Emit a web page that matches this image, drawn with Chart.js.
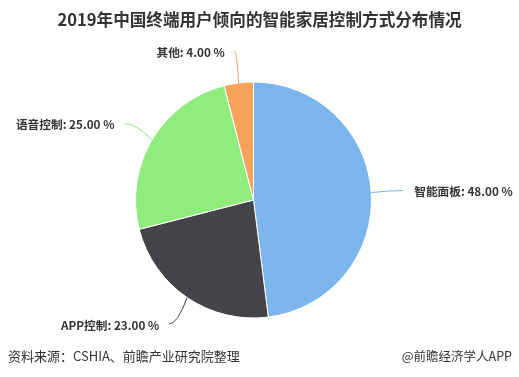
<!DOCTYPE html>
<html>
<head>
<meta charset="utf-8">
<script src="https://cdn.jsdelivr.net/npm/chart.js@4/dist/chart.umd.min.js"></script>
<style>
  html, body { margin: 0; padding: 0; background: #fff; }
  #wrap { position: relative; width: 519px; height: 377px; overflow: hidden; }
  #c { position: absolute; left: 0; top: 0; }
  .t { position: absolute; font-family: "Noto Sans CJK SC", "Noto Sans", sans-serif; white-space: nowrap; }
  #title { left: 0; width: 519px; top: 8px; text-align: center; font-size: 16.6px; font-weight: bold; color: #333; line-height: 22px; }
  #src { left: 8px; top: 346px; font-size: 13px; color: #333; line-height: 20px; }
  #app { right: 7px; top: 346px; font-size: 12.5px; color: #333; line-height: 20px; }
</style>
</head>
<body>
<div id="wrap">
  <canvas id="c" width="519" height="377"></canvas>
  <div class="t" id="title">2019年中国终端用户倾向的智能家居控制方式分布情况</div>
  <div class="t" id="src">资料来源：CSHIA、前瞻产业研究院整理</div>
  <div class="t" id="app">@前瞻经济学人APP</div>
</div>
<script>
const categories = ["智能面板", "APP控制", "语音控制", "其他"];
const values = [48.00, 23.00, 25.00, 4.00];
const colors = ["#7cb5ec", "#434348", "#90ed7d", "#f7a35c"];

const labelPlugin = {
  id: 'pieLabels',
  afterDatasetsDraw(chart) {
    const ctx = chart.ctx;
    const meta = chart.getDatasetMeta(0);
    const dist = 32;
    ctx.save();
    meta.data.forEach((arc, i) => {
      const p = arc.getProps(['x', 'y', 'startAngle', 'endAngle', 'outerRadius'], true);
      const mid = (p.startAngle + p.endAngle) / 2;
      const dx = Math.cos(mid), dy = Math.sin(mid);
      const ex = p.x + dx * p.outerRadius, ey = p.y + dy * p.outerRadius;
      const endX = p.x + dx * (p.outerRadius + dist), endY = p.y + dy * (p.outerRadius + dist);
      const cx = p.x + dx * (p.outerRadius + dist * 0.55);
      const cy = endY;
      ctx.strokeStyle = colors[i];
      ctx.lineWidth = 1;
      ctx.beginPath();
      ctx.moveTo(ex, ey);
      ctx.quadraticCurveTo(cx, cy, endX, endY);
      ctx.stroke();
      const right = dx >= 0;
      ctx.font = 'bold 11.7px "Noto Sans CJK SC", "Noto Sans", sans-serif';
      ctx.fillStyle = '#333';
      ctx.textBaseline = 'middle';
      ctx.textAlign = right ? 'left' : 'right';
      const txt = categories[i] + ': ' + values[i].toFixed(2) + ' %';
      ctx.fillText(txt, endX + (right ? 11 : -10), endY + 1);
    });
    ctx.restore();
  }
};

new Chart(document.getElementById('c'), {
  type: 'pie',
  data: {
    labels: categories,
    datasets: [{
      data: values,
      backgroundColor: colors,
      borderColor: '#ffffff',
      borderWidth: 1,
      hoverOffset: 0
    }]
  },
  options: {
    responsive: false,
    animation: false,
    events: [],
    layout: { padding: { left: 135, right: 147, top: 81.5, bottom: 58.5 } },
    plugins: {
      legend: { display: false },
      tooltip: { enabled: false },
      title: { display: false }
    }
  },
  plugins: [labelPlugin]
});
</script>
</body>
</html>
